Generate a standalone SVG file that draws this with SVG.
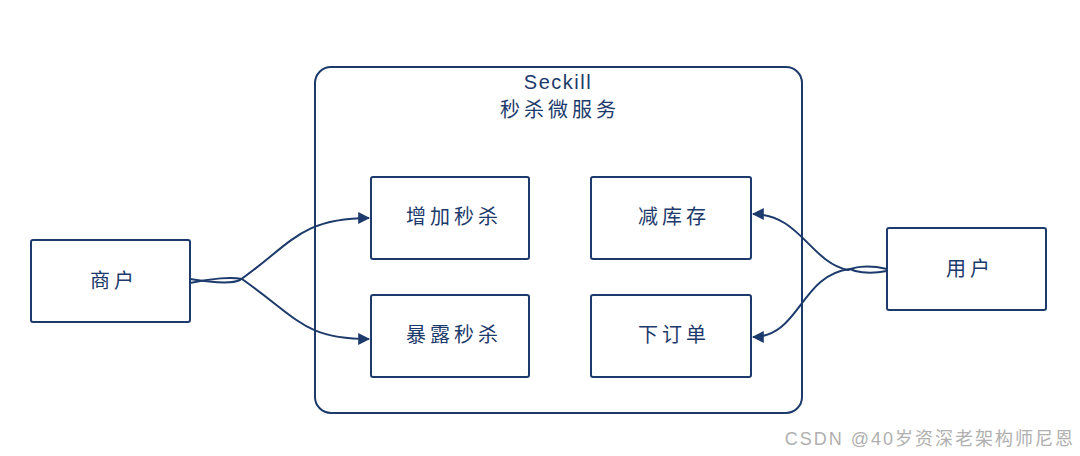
<svg xmlns="http://www.w3.org/2000/svg" width="1080" height="456" viewBox="0 0 1080 456">
<defs>
<style>
.box{fill:none;stroke:#1c3a6b;stroke-width:2}
.lbl{font-family:"Liberation Sans","Noto Sans CJK SC",sans-serif;font-size:20px;fill:#1c3a6b;text-anchor:middle;letter-spacing:4px}
.con{fill:none;stroke:#1c3a6b;stroke-width:2}
</style>
<marker id="ah" viewBox="0 0 10 10" refX="9" refY="5" markerWidth="6" markerHeight="6" orient="auto" markerUnits="strokeWidth">
<path d="M0,0 L10,5 L0,10 z" fill="#1c3a6b"/>
</marker>
</defs>
<rect width="1080" height="456" fill="#ffffff"/>
<g id="seckill">
<rect class="box" x="315" y="67" width="487" height="346" rx="16"/>
<text class="lbl" x="558" y="89" style="letter-spacing:1.5px">Seckill</text>
<text class="lbl" x="560" y="117">秒杀微服务</text>
</g>
<g id="merchant">
<rect class="box" x="31" y="240" width="159" height="82" rx="2"/>
<text class="lbl" x="114" y="288">商户</text>
</g>
<g id="add">
<rect class="box" x="371" y="177" width="158" height="82" rx="2"/>
<text class="lbl" x="454" y="224">增加秒杀</text>
</g>
<g id="expose">
<rect class="box" x="371" y="295" width="158" height="82" rx="2"/>
<text class="lbl" x="454" y="342">暴露秒杀</text>
</g>
<g id="stock">
<rect class="box" x="591" y="177" width="160" height="82" rx="2"/>
<text class="lbl" x="674" y="224">减库存</text>
</g>
<g id="order">
<rect class="box" x="591" y="295" width="160" height="82" rx="2"/>
<text class="lbl" x="674" y="342">下订单</text>
</g>
<g id="user">
<rect class="box" x="887" y="228" width="159" height="82" rx="2"/>
<text class="lbl" x="970" y="276">用户</text>
</g>
<g id="connectors">
<path class="con" d="M190,279 C215,283 232,284 240,280 C290,245 300,218 369,218" marker-end="url(#ah)"/>
<path class="con" d="M190,283 C212,278 232,277 242,279 C300,320 305,339 369,339" marker-end="url(#ah)"/>
<path class="con" d="M887,269 C865,264 852,268 848,270 C810,262 800,214 753,214" marker-end="url(#ah)"/>
<path class="con" d="M887,271 C866,275 854,271 850,269 C800,275 800,337 753,337" marker-end="url(#ah)"/>
</g>
<text x="1075" y="445" font-family="Liberation Sans,Noto Sans CJK SC,sans-serif" font-size="18" letter-spacing="2" fill="#b0b0b0" text-anchor="end">CSDN @40岁资深老架构师尼恩</text>
</svg>
